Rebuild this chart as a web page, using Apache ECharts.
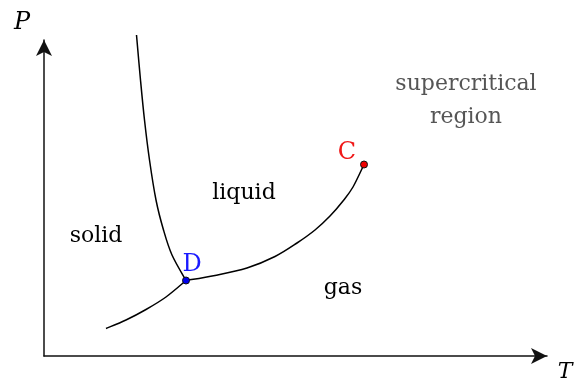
<!DOCTYPE html>
<html>
<head>
    <meta charset="utf-8">
    <title>phase diagram</title>
    <script src="https://cdn.jsdelivr.net/npm/echarts@6/dist/echarts.min.js"></script>
    <style>
        html, body { margin: 0; padding: 0; background: #fff; }
        #main { width: 575px; height: 380px; }
    </style>
</head>
<body>
    <div id="main"></div>
    <script>
    // curves, in axis units
    var meltingCurve = [[92.5, 321], [96.5, 276], [100.5, 236], [105.5, 196], [112, 156],
        [119.5, 126], [128, 101], [142, 75.5]];
    var sublimationCurve = [[62, 27.5], [82, 36], [102, 46.5], [122, 59], [142, 75.5]];
    var vaporCurve = [[142, 75.5], [171, 80.5], [203, 88], [231, 99.5], [253, 113], [271, 126],
        [286, 140], [299, 155], [309, 169], [320, 191.5]];
    var curves = [meltingCurve, sublimationCurve, vaporCurve];

    var triplePoint = [142, 75.5];
    var criticalPoint = [320, 191.5];

    // region labels
    var regionNames = ['solid', 'liquid', 'gas', 'supercritical\nregion'];
    var regionPos = [[52, 119.5], [200, 162.5], [299, 67.5], [422, 255.5]];

    var myChart = echarts.init(document.getElementById('main'));

    var serif = 'DejaVu Serif';

    var regionData = regionNames.map(function (n, i) {
        var d = { name: n, value: regionPos[i] };
        if (i == 3) d.label = { color: '#555' };
        return d;
    });

    // smooth path through the points (catmull-rom -> bezier)
    function renderCurve(params, api) {
        var pts = curves[params.dataIndex].map(function (p) { return api.coord(p); });
        var n = pts.length;
        var d = 'M' + pts[0][0] + ' ' + pts[0][1];
        for (var i = 0; i < n - 1; i++) {
            var p0 = pts[Math.max(i - 1, 0)], p1 = pts[i], p2 = pts[i + 1], p3 = pts[Math.min(i + 2, n - 1)];
            var c1x = p1[0] + (p2[0] - p0[0]) / 6, c1y = p1[1] + (p2[1] - p0[1]) / 6;
            var c2x = p2[0] - (p3[0] - p1[0]) / 6, c2y = p2[1] - (p3[1] - p1[1]) / 6;
            d += ' C' + c1x + ' ' + c1y + ' ' + c2x + ' ' + c2y + ' ' + p2[0] + ' ' + p2[1];
        }
        return {
            type: 'path',
            shape: { pathData: d },
            style: { stroke: '#000', fill: 'none', lineWidth: 1.5 }
        };
    }

    var option = {
        animation: false,
        grid: { left: 44, right: 28, top: 40, bottom: 24 },
        xAxis: {
            type: 'value', min: 0, max: 503,
            axisLine: {
                onZero: false,
                symbol: ['none', 'arrow'], symbolSize: [12, 16],
                lineStyle: { color: '#111', width: 1.5 }
            },
            axisTick: { show: false }, axisLabel: { show: false }, splitLine: { show: false }
        },
        yAxis: {
            type: 'value', min: 0, max: 316,
            axisLine: {
                show: true, onZero: false,
                symbol: ['none', 'arrow'], symbolSize: [12, 16],
                lineStyle: { color: '#111', width: 1.5 }
            },
            axisTick: { show: false }, axisLabel: { show: false }, splitLine: { show: false }
        },
        graphic: [
            { type: 'text', x: 22, y: 23, style: { text: 'P', font: 'italic 24px "DejaVu Serif"', fill: '#000', align: 'center', verticalAlign: 'middle' } },
            { type: 'text', x: 565, y: 372, style: { text: 'T', font: 'italic 22px "DejaVu Serif"', fill: '#000', align: 'center', verticalAlign: 'middle' } }
        ],
        series: [
            {
                type: 'custom',
                silent: true,
                clip: false,
                data: curves.map(function (c) { return c[0]; }),
                renderItem: renderCurve
            },
            {
                type: 'scatter',
                silent: true,
                clip: false,
                data: [
                    { value: triplePoint, name: 'D', itemStyle: { color: '#0000ee' },
                      label: { color: '#1a1aff', offset: [6, 5] } },
                    { value: criticalPoint, name: 'C', itemStyle: { color: '#ee0000' },
                      label: { color: '#f01a1a', offset: [-17, 9] } }
                ],
                symbolSize: 7,
                z: 5,
                itemStyle: { borderColor: '#111', borderWidth: 1, opacity: 1 },
                label: {
                    show: true, position: 'top', formatter: '{b}',
                    fontFamily: serif, fontSize: 24, textBorderWidth: 0, opacity: 1
                }
            },
            {
                type: 'scatter',
                silent: true,
                clip: false,
                symbolSize: 0,
                data: regionData,
                itemStyle: { opacity: 1 },
                label: {
                    show: true, position: 'inside', formatter: '{b}',
                    fontFamily: serif, fontSize: 22, lineHeight: 33,
                    color: '#000', textBorderWidth: 0, opacity: 1
                },
                labelLayout: { hideOverlap: false }
            }
        ]
    };

    myChart.setOption(option);
    window.onresize = myChart.resize;
    </script>
</body>
</html>
